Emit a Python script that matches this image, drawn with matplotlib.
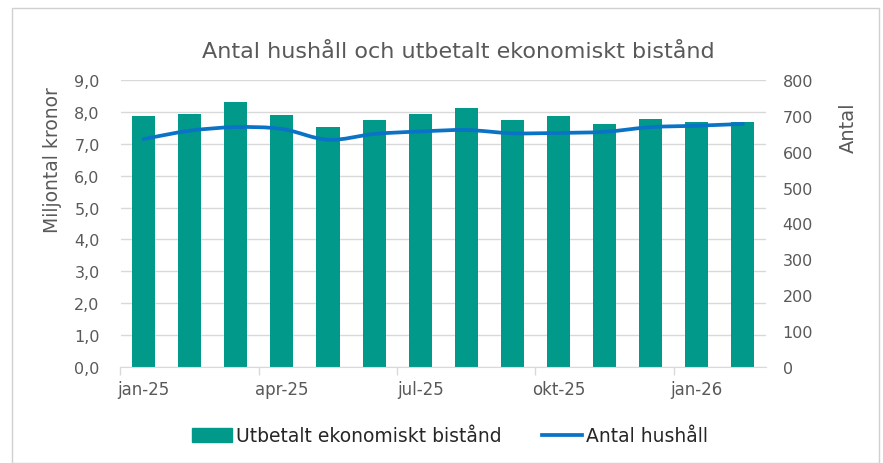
import matplotlib
matplotlib.use("Agg")
import matplotlib.pyplot as plt
from matplotlib.path import Path
from matplotlib.patches import PathPatch, Patch, Rectangle
from matplotlib.lines import Line2D
import numpy as np

months = ["jan-25", "feb-25", "mar-25", "apr-25", "maj-25", "jun-25", "jul-25",
          "aug-25", "sep-25", "okt-25", "nov-25", "dec-25", "jan-26", "feb-26"]
utbetalt = [7.86, 7.94, 8.30, 7.90, 7.53, 7.74, 7.94, 8.10, 7.73, 7.85, 7.62, 7.78, 7.69, 7.69]
hushall = [635, 658, 668, 663, 633, 649, 656, 660, 651, 652, 655, 668, 672, 677]
left_ticks = [0, 1, 2, 3, 4, 5, 6, 7, 8, 9]
right_ticks = [0, 100, 200, 300, 400, 500, 600, 700, 800]

title = "Antal hushåll och utbetalt ekonomiskt bistånd"
bar_label = "Utbetalt ekonomiskt bistånd"
line_label = "Antal hushåll"

BAR_C = "#00998A"
LINE_C = "#0A73C6"
TXT = "#595959"
GRID = "#D9D9D9"

plt.rcParams['font.family'] = ['DejaVu Sans']

fig = plt.figure(figsize=(8.83, 4.64), dpi=100)
fig.patches.append(Rectangle((12/883, 0), (879-12)/883, 1 - 9/464, transform=fig.transFigure,
                             fill=False, edgecolor="#D0D0D0", linewidth=1))

ax = fig.add_axes([120.5/883, 1 - 368.3/464, (766-120.5)/883, (368.3-80.7)/464])
x = np.arange(len(months))
ax.bar(x, utbetalt, width=0.5, color=BAR_C, zorder=2)
ax.set_xlim(-0.5, len(months) - 0.5)
ax.set_ylim(0, 9)
ax.set_yticks(left_ticks)
ax.set_yticklabels([f"{v:.1f}".replace(".", ",") for v in left_ticks], color=TXT, fontsize=11.5)
ax.yaxis.grid(True, color=GRID, linewidth=1, zorder=0)
ax.set_axisbelow(True)
ax.tick_params(axis='y', length=0, pad=15)
ax.set_xticks(x[::3])
ax.set_xticklabels(months[::3], color=TXT, fontsize=12)
ax.set_xticks(x[::3] - 0.5, minor=True)
ax.tick_params(axis='x', which='major', length=0, pad=9)
ax.tick_params(axis='x', which='minor', length=6, color=GRID, width=1)
for s in ["top", "right", "left"]:
    ax.spines[s].set_visible(False)
ax.spines["bottom"].set_color(GRID)

ax2 = ax.twinx()
ax2.set_ylim(0, 800)
ax2.set_yticks(right_ticks)
ax2.set_yticklabels([str(v) for v in right_ticks], color=TXT, fontsize=11.5)
ax2.tick_params(axis='y', length=0, pad=12)
for s in ax2.spines.values():
    s.set_visible(False)

fig.text(53/883, 1 - 160/464, "Miljontal kronor", rotation=90, ha="center", va="center",
         color=TXT, fontsize=13.5)
fig.text(848/883, 1 - 128/464, "Antal", rotation=90, ha="center", va="center",
         color=TXT, fontsize=14)

# smooth line (Bezier through data points)
pts = np.column_stack([x, hushall]).astype(float)
verts = [tuple(pts[0])]
codes = [Path.MOVETO]
n = len(pts)
for i in range(n - 1):
    p0 = pts[i - 1] if i > 0 else pts[i]
    p1 = pts[i]
    p2 = pts[i + 1]
    p3 = pts[i + 2] if i + 2 < n else pts[i + 1]
    c1 = p1 + (p2 - p0) / 6
    c2 = p2 - (p3 - p1) / 6
    verts += [tuple(c1), tuple(c2), tuple(p2)]
    codes += [Path.CURVE4] * 3
ax2.add_patch(PathPatch(Path(verts, codes), fill=False, edgecolor=LINE_C,
                        linewidth=2.7, capstyle='round', joinstyle='round', zorder=3))

fig.text(458/883, 1 - 52/464, title, ha="center", va="center", color=TXT, fontsize=16)

handles = [Patch(facecolor=BAR_C, edgecolor=BAR_C), Line2D([0], [0], color=LINE_C, linewidth=2.7)]
fig.legend(handles, [bar_label, line_label], loc="center", bbox_to_anchor=(450/883, 1 - 437/464),
           ncol=2, frameon=False, fontsize=13.5, columnspacing=2.2, handlelength=2.1,
           handletextpad=0.2, labelcolor="#262626")

fig.savefig("out.png", dpi=100)
